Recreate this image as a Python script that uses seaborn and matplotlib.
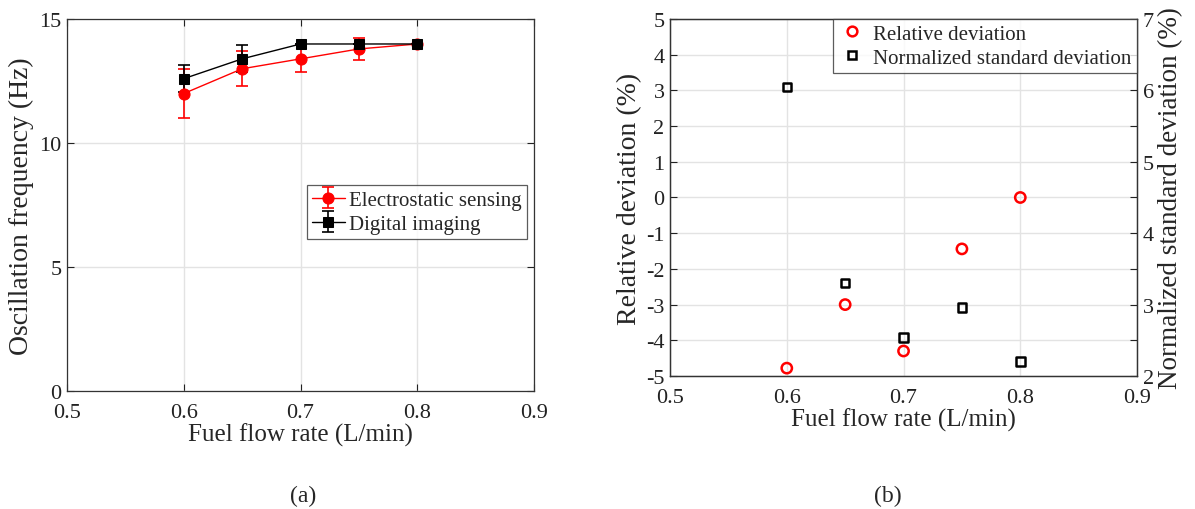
import numpy as np
import pandas as pd
import matplotlib
matplotlib.use("Agg")
import matplotlib.pyplot as plt
import seaborn as sns
from matplotlib.legend_handler import HandlerTuple

flow = [0.6, 0.65, 0.7, 0.75, 0.8]
electro_freq = [12.0, 13.0, 13.4, 13.8, 14.0]
electro_err = [1.0, 0.7, 0.55, 0.45, 0.0]
imaging_freq = [12.6, 13.4, 14.0, 14.0, 14.0]
imaging_err = [0.55, 0.55, 0.0, 0.0, 0.0]
rel_dev = [-4.78, -3.0, -4.3, -1.44, 0.0]
norm_std = [6.05, 3.30, 2.54, 2.96, 2.20]

sns.set_style("white")
plt.rcParams['font.family'] = ['Liberation Serif', 'DejaVu Serif']
plt.rcParams['mathtext.fontset'] = 'stix'

fig = plt.figure(figsize=(11.95, 5.10), dpi=100)
ax1 = fig.add_axes([0.056, 0.2314, 0.391, 0.729])
ax2 = fig.add_axes([0.5607, 0.2608, 0.3908, 0.700])

tick_fs = 16
xlabel_fs = 18
ylabel_fs = 20
grid_col = '#e3e3e3'

def style(ax):
    for s in ax.spines.values():
        s.set_color('#333333')
        s.set_linewidth(0.9)
    ax.tick_params(direction='in', length=5, width=0.8, labelsize=tick_fs, colors='#222222')
    ax.tick_params(axis='x', pad=9)
    ax.tick_params(axis='y', pad=4)
    ax.grid(True, color=grid_col, linewidth=1.0)
    ax.set_axisbelow(True)

# ---- Panel (a)
df = pd.DataFrame({'flow': flow, 'e': electro_freq, 'd': imaging_freq})
eb1 = ax1.errorbar(flow, electro_freq, yerr=electro_err, fmt='none', ecolor='red',
                   elinewidth=1.2, capsize=4, capthick=1.2, zorder=3)
eb2 = ax1.errorbar(flow, imaging_freq, yerr=imaging_err, fmt='none', ecolor='black',
                   elinewidth=1.2, capsize=4, capthick=1.2, zorder=3)
sns.lineplot(data=df, x='flow', y='e', ax=ax1, color='red', marker='o', markersize=8,
             markeredgecolor='red', linewidth=1.0, legend=False, zorder=4)
sns.lineplot(data=df, x='flow', y='d', ax=ax1, color='black', marker='s', markersize=7,
             markeredgecolor='black', linewidth=1.0, legend=False, zorder=5)
l1 = ax1.lines[-2]
l2 = ax1.lines[-1]
ax1.set_xlim(0.5, 0.9)
ax1.set_ylim(0, 15)
ax1.set_xticks([0.5, 0.6, 0.7, 0.8, 0.9])
ax1.set_xticklabels(['0.5', '0.6', '0.7', '0.8', '0.9'])
ax1.set_yticks([0, 5, 10, 15])
style(ax1)
ax1.tick_params(top=True, right=True, bottom=True, left=True)
ax1.set_xlabel('Fuel flow rate (L/min)', fontsize=xlabel_fs, labelpad=0)
ax1.set_ylabel('Oscillation frequency (Hz)', fontsize=ylabel_fs, labelpad=4)
leg1 = ax1.legend([(eb1, l1), (eb2, l2)], ['Electrostatic sensing', 'Digital imaging'],
                  handler_map={tuple: HandlerTuple(ndivide=1)},
                  loc='center right', bbox_to_anchor=(0.985, 0.481), fontsize=15,
                  frameon=True, fancybox=False, edgecolor='#333333', borderpad=0.25,
                  handlelength=1.6, handletextpad=0.2, labelspacing=0.2, borderaxespad=0)
leg1.get_frame().set_linewidth(0.9)

# ---- Panel (b)
ax3 = ax2.twinx()
df2 = pd.DataFrame({'flow': flow, 'rel': rel_dev, 'nstd': norm_std})
sns.scatterplot(data=df2, x='flow', y='rel', ax=ax2, marker='o', s=55,
                facecolor='none', edgecolor='red', linewidth=1.8, legend=False, zorder=4)
sns.scatterplot(data=df2, x='flow', y='nstd', ax=ax3, marker='s', s=38,
                facecolor='none', edgecolor='black', linewidth=1.8, legend=False, zorder=4)
ax2.set_xlim(0.5, 0.9)
ax2.set_ylim(-5, 5)
ax3.set_ylim(2, 7)
ax2.set_xticks([0.5, 0.6, 0.7, 0.8, 0.9])
ax2.set_xticklabels(['0.5', '0.6', '0.7', '0.8', '0.9'])
ax2.set_yticks(np.arange(-5, 6, 1))
ax2.set_yticklabels([str(v) for v in range(-5, 6)])
style(ax2)
ax2.tick_params(top=False, right=False)
ax3.set_yticks(np.arange(2, 7.01, 0.5))
ax3.set_yticklabels([str(int(v)) if float(v).is_integer() else '' for v in np.arange(2, 7.01, 0.5)])
ax3.tick_params(direction='in', length=5, width=0.8, labelsize=tick_fs, colors='#222222', pad=4)
ax3.grid(False)
for s in ax3.spines.values():
    s.set_color('#333333')
    s.set_linewidth(0.9)
ax2.set_xlabel('Fuel flow rate (L/min)', fontsize=xlabel_fs, labelpad=0)
ax2.set_ylabel('Relative deviation (%)', fontsize=ylabel_fs, labelpad=3)
ax3.set_ylabel('Normalized standard deviation (%)', fontsize=19.5, labelpad=3)
ax3.set_xlabel('')

h1 = plt.Line2D([], [], linestyle='none', marker='o', markersize=7, markerfacecolor='none',
                markeredgecolor='red', markeredgewidth=1.8)
h2 = plt.Line2D([], [], linestyle='none', marker='s', markersize=6, markerfacecolor='none',
                markeredgecolor='black', markeredgewidth=1.8)
leg2 = ax3.legend([h1, h2], ['Relative deviation', 'Normalized standard deviation'],
                  loc='upper right', fontsize=15, frameon=True, fancybox=False,
                  edgecolor='#333333', borderpad=0.25, handlelength=1.3,
                  handletextpad=0.4, labelspacing=0.2, borderaxespad=0)
leg2.get_frame().set_linewidth(0.9)

fig.text(0.2535, 0.005, '(a)', ha='center', va='bottom', fontsize=17)
fig.text(0.7430, 0.005, '(b)', ha='center', va='bottom', fontsize=17)

fig.savefig('out.png', dpi=100, facecolor='white')
